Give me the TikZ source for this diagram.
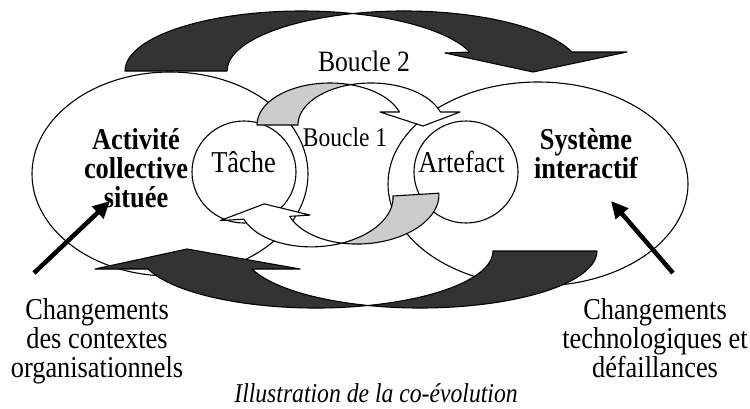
\documentclass[tikz,border=0pt]{standalone}
\usepackage{fontspec}
\setmainfont{Liberation Serif}[FakeStretch=0.87]
\usetikzlibrary{arrows.meta,shapes.geometric}
\definecolor{darkfill}{HTML}{333333}
\definecolor{lightfill}{HTML}{CCCCCC}
\begin{document}
\begin{tikzpicture}[x=1pt,y=-1pt,
  outline/.style={draw=black, line width=1.1pt, line join=round},
  ring/.style={outline, fill=white, ellipse, inner sep=0pt},
  darkarrow/.style={outline, fill=darkfill},
  grayside/.style={outline, fill=lightfill},
  whiteside/.style={outline, fill=white},
  push/.style={line width=4.5pt, -{Triangle[length=17pt,width=16pt]}},
  txt/.style={inner sep=0pt, align=center, font=\fontsize{30.3}{29}\selectfont},
  boldtxt/.style={inner sep=0pt, align=center, font=\fontsize{30.3}{29}\selectfont\bfseries}]
\useasboundingbox (0,0) rectangle (750,408);
\fill[white] (0,0) rectangle (750,408);

% big ellipses
\node (activity) [ring, minimum width=276pt, minimum height=204pt] at (170,174) {};
\node (system) [ring, minimum width=300pt, minimum height=204pt] at (538,184) {};
% small circles
\node (task) [ring, minimum width=104pt, minimum height=102pt] at (244,172) {};
\node (artefact) [ring, minimum width=104pt, minimum height=102pt] at (466,172) {};

% Boucle 2 : top dark arrow
\path[darkarrow] (125,71) arc[start angle=180, end angle=286.75, x radius=177, y radius=60]
  arc[start angle=253.25, end angle=180, x radius=177, y radius=60] -- cycle;
\path[darkarrow] ({302+177*cos(286.75)},{71+60*sin(286.75)})
  arc[start angle=253.25, end angle=341.54, x radius=177, y radius=60]
  -- (627,52) -- (533,72) -- (445,53)
  -- ({302+177*cos(341.54)},{71+60*sin(341.54)})
  arc[start angle=341.54, end angle=286.75, x radius=177, y radius=60] -- cycle;

% Boucle 2 : bottom dark arrow
\path[darkarrow] (597,251) arc[start angle=0, end angle=107.08, x radius=177, y radius=57]
  arc[start angle=72.92, end angle=0, x radius=177, y radius=57] -- cycle;
\path[darkarrow] ({316+177*cos(72.92)},{251+57*sin(72.92)})
  arc[start angle=72.92, end angle=161.59, x radius=177, y radius=57]
  -- (95,269) -- (187,249) -- (300,269)
  -- ({420+177*cos(161.59)},{251+57*sin(161.59)})
  arc[start angle=161.59, end angle=107.08, x radius=177, y radius=57] -- cycle;

% Boucle 1 : upper arrow (grey to white)
\path[grayside] (257,125) arc[start angle=180, end angle=286.31, x radius=73, y radius=42]
  arc[start angle=253.69, end angle=180, x radius=73, y radius=42] -- cycle;
\path[whiteside] ({330+73*cos(286.31)},{125+42*sin(286.31)})
  arc[start angle=253.69, end angle=341.97, x radius=73, y radius=42]
  -- (460,112) -- (423,126) -- (380,112)
  -- ({330+73*cos(341.97)},{125+42*sin(341.97)})
  arc[start angle=341.97, end angle=286.31, x radius=73, y radius=42] -- cycle;

% Boucle 1 : lower arrow (grey to white)
\begin{scope}[rotate around={3.5:(393,196)}]
\path[grayside] (439,196) arc[start angle=0, end angle=107.38, x radius=77, y radius=46]
  arc[start angle=72.62, end angle=0, x radius=77, y radius=46] -- cycle;
\path[whiteside] ({316+77*cos(72.62)},{196+46*sin(72.62)})
  arc[start angle=72.62, end angle=162.28, x radius=77, y radius=46]
  -- (219,210) -- (264,196) -- (309,210)
  -- ({362+77*cos(162.28)},{196+46*sin(162.28)})
  arc[start angle=162.28, end angle=107.38, x radius=77, y radius=46] -- cycle;
\end{scope}

% thick arrows
\coordinate (orgstart) at (34,273);
\coordinate (orgend) at (110,201);
\coordinate (techstart) at (673,273);
\coordinate (techend) at (611,201);
\draw[push] (orgstart) -- (orgend);
\draw[push] (techstart) -- (techend);

% texts
\node (acttext) [boldtxt, anchor=north] at (136,128.5) {Activité\\collective\\située};
\node (systext) [boldtxt, anchor=north] at (586,128.5) {Système\\interactif};
\node (tasktext) [txt, anchor=base] at (243.5,172) {Tâche};
\node (arttext) [txt, anchor=base] at (461.5,172) {Artefact};
\node (loop1) [txt, anchor=base, font=\fontsize{27}{29}\selectfont] at (345,146) {Boucle 1};
\node (loop2) [txt, anchor=base, font=\fontsize{29.5}{29}\selectfont] at (364,71) {Boucle 2};
\node (orgtext) [txt, anchor=north] at (97,298.5) {Changements\\des contextes\\organisationnels};
\node (techtext) [txt, anchor=north] at (655,298.5) {Changements\\technologiques et\\défaillances};
\node (caption) [txt, anchor=base, font=\fontsize{27.2}{29}\selectfont\itshape] at (376,402) {Illustration de la co-évolution};
\end{tikzpicture}
\end{document}
